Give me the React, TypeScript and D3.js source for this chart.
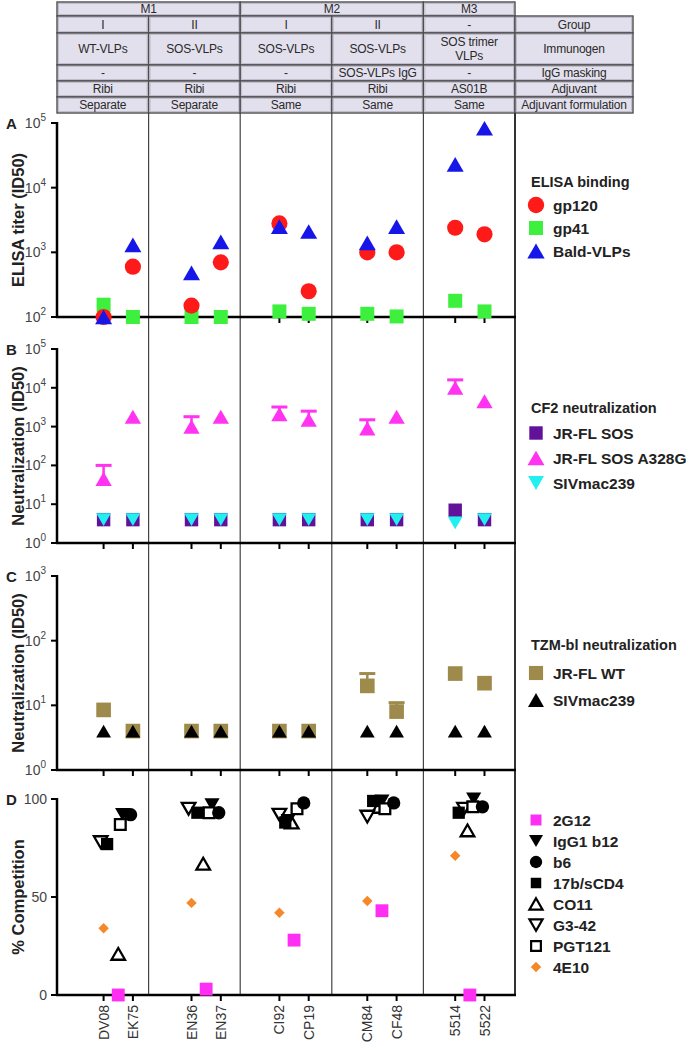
import React from "react";
import * as d3 from "d3";

// ---------------- data ----------------
const subjects = ["DV08", "EK75", "EN36", "EN37", "CI92", "CP19", "CM84", "CF48", "5514", "5522"];
const subjectSlots = [1, 2, 4, 5, 7, 8, 10, 11, 13, 14];
const groupKeys = ["M1-I", "M1-II", "M2-I", "M2-II", "M3"];
const groupCenterSlots = [1.5, 4.5, 7.5, 10.5, 13.5];

// table
const topHeaderLabels = ["M1", "M2", "M3"];
const topHeaderSpans = [2, 2, 1];
const rowTitles = ["Group", "Immunogen", "IgG masking", "Adjuvant", "Adjuvant formulation"];
const groupRow = ["I", "II", "I", "II", "-"];
const immunogenRow = ["WT-VLPs", "SOS-VLPs", "SOS-VLPs", "SOS-VLPs", "SOS trimer|VLPs"];
const maskingRow = ["-", "-", "-", "SOS-VLPs IgG", "-"];
const adjuvantRow = ["Ribi", "Ribi", "Ribi", "Ribi", "AS01B"];
const formulationRow = ["Separate", "Separate", "Same", "Same", "Same"];

// Panel A: ELISA binding (ID50)
const elisaGp120 = [100, 600, 150, 700, 2800, 250, 1000, 1000, 2400, 1900];
const elisaGp41 = [155, 100, 100, 100, 122, 112, 112, 102, 178, 122];
const elisaBald = [100, 1300, 480, 1450, 2500, 2100, 1400, 2500, 23000, 83000];

// Panel B: CF2 neutralization (ID50)
const cf2JrflSos = [4, 4, 4, 4, 4, 4, 4, 4, 7, 4];
const cf2A328G = [45, 1800, 1000, 1800, 2100, 1500, 900, 1800, 10000, 4500];
const cf2A328GUpper = [100, null, 1800, null, 3200, 2500, 1500, null, 16000, null];
const cf2Siv = [4, 4, 4, 4, 4, 4, 4, 4, 3.3, 4];

// Panel C: TZM-bl neutralization (ID50)
const tzmJrflWT = [8.5, 4, 4, 4, 4, 4, 20, 8, 31, 22];
const tzmJrflWTUpper = [null, null, null, null, null, null, 31, 11, null, null];
const tzmSiv = [4, 4, 4, 4, 4, 4, 4, 4, 4, 4];

// Panel D: % competition per group (5 groups)
const compNames = ["2G12", "IgG1 b12", "b6", "17b/sCD4", "CO11", "G3-42", "PGT121", "4E10"];
const comp2G12 = [0, 3, 28, 43, 0];
const compB12 = [92, 97, 89, 99, 100];
const compB6 = [92, 93, 98, 98, 96];
const comp17b = [77, 93, 88, 99, 93];
const compCO11 = [21, 67, 88, 96, 84];
const compG342 = [78, 95, 92, 91, 95];
const compPGT121 = [87, 93, 95, 95, 96];
const comp4E10 = [34, 47, 42, 48, 71];
// horizontal scatter offsets (in subject-slot units) as plotted
const jit2G12 = [0, 0, 0, 0, 0];
const jitB12 = [0.15, 0.2, -0.2, 0, 0.13];
const jitB6 = [0.42, 0.43, 0.33, 0.4, 0.43];
const jit17b = [-0.38, -0.3, -0.3, -0.3, -0.38];
const jitCO11 = [0, -0.1, -0.08, -0.1, -0.08];
const jitG342 = [-0.6, -0.6, -0.5, -0.5, -0.2];
const jitPGT121 = [0.07, 0.1, 0.1, 0.1, 0.1];
const jit4E10 = [-0.5, -0.5, -0.5, -0.5, -0.5];

// ---------------- layout ----------------
const W = 699;
const H = 1050;
const FONT = "'Liberation Sans', Arial, Helvetica, sans-serif";
const axisLeft = 57;
const plotRight = 515;
const tableRight = 633;
const tableRowsY = [2, 16, 33, 65, 81, 97, 113];
const plotBottom = 995;

const xSlot = d3.scaleLinear().domain([1, 14]).range([103.6, 484.5]);
const xGroup = d3.scaleBand<string>().domain(groupKeys).range([axisLeft, plotRight]);

const yA = d3.scaleLog().domain([1e2, 1e5]).range([317, 123]);
const yB = d3.scaleLog().domain([1, 1e5]).range([543, 349]);
const yC = d3.scaleLog().domain([1, 1e3]).range([770, 576]);
const yD = d3.scaleLinear().domain([0, 100]).range([995, 799]);

const C = {
  red: "#ff1a1a",
  green: "#3ef03e",
  blue: "#1616e8",
  purple: "#62119a",
  pink: "#ff33f0",
  cyan: "#22f0f0",
  olive: "#9e8b4c",
  black: "#000",
  magenta: "#ff2ef5",
  orange: "#f5892a",
};

type Shape = "circle" | "square" | "triangle" | "triangleDown" | "diamond";

function Marker(props: {
  shape: Shape;
  x: number;
  y: number;
  size: number;
  fill: string;
  stroke?: string;
  sw?: number;
}) {
  const { shape, x, y, size, fill, stroke, sw } = props;
  let type: any = d3.symbolCircle;
  let rot = 0;
  let dy = 0;
  if (shape === "square") type = d3.symbolSquare;
  if (shape === "triangle") {
    type = d3.symbolTriangle;
    dy = Math.sqrt(size / (Math.sqrt(3) * 3)) * 0.5;
  }
  if (shape === "triangleDown") {
    type = d3.symbolTriangle;
    rot = 180;
    dy = -Math.sqrt(size / (Math.sqrt(3) * 3)) * 0.5;
  }
  if (shape === "diamond") {
    type = d3.symbolSquare;
    rot = 45;
  }
  const d = d3.symbol().type(type).size(size)() as string;
  return (
    <path
      d={d}
      transform={`translate(${x},${y + dy}) rotate(${rot})`}
      fill={fill}
      stroke={stroke || "none"}
      strokeWidth={sw || 0}
      strokeLinejoin="miter"
    />
  );
}

function LogTicks(props: { scale: any; exps: number[] }) {
  const { scale, exps } = props;
  return (
    <g>
      {exps.map((e) => {
        const y = scale(Math.pow(10, e));
        return (
          <g key={e}>
            <line x1={axisLeft - 6} x2={axisLeft} y1={y} y2={y} stroke="#000" strokeWidth={2} />
            <text x={axisLeft - 11} y={y + 5} textAnchor="end" fontFamily={FONT} fontSize={14} fill="#444">
              10
              <tspan dy={-7} fontSize={10}>
                {e}
              </tspan>
            </text>
          </g>
        );
      })}
    </g>
  );
}

function PanelFrame(props: { top: number; bottom: number; letter: string; title: string }) {
  const { top, bottom, letter, title } = props;
  const mid = (top + bottom) / 2;
  return (
    <g>
      <line x1={axisLeft} x2={axisLeft} y1={top - 1} y2={bottom} stroke="#000" strokeWidth={2.5} />
      <line x1={axisLeft - 1} x2={plotRight + 1} y1={bottom} y2={bottom} stroke="#000" strokeWidth={2.5} />
      {subjectSlots.map((s, i) => (
        <line key={i} x1={xSlot(s)} x2={xSlot(s)} y1={bottom} y2={bottom + 6} stroke="#000" strokeWidth={2} />
      ))}
      <text x={6} y={top + 6} fontFamily={FONT} fontSize={15} fontWeight="bold" fill="#222">
        {letter}
      </text>
      <text
        transform={`translate(${24},${mid}) rotate(-90)`}
        textAnchor="middle"
        fontFamily={FONT}
        fontSize={16.5}
        fontWeight="bold"
        fill="#222"
      >
        {title}
      </text>
    </g>
  );
}

function Legend(props: {
  x: number;
  y: number;
  title?: string;
  items: { label: string; shape: Shape; size: number; fill: string; stroke?: string; sw?: number }[];
  step: number;
  titleGap: number;
}) {
  const { x, y, title, items, step, titleGap } = props;
  return (
    <g>
      {title && (
        <text x={x - 2} y={y + 5} fontFamily={FONT} fontSize={14.5} fontWeight="bold" fill="#222">
          {title}
        </text>
      )}
      {items.map((it, i) => {
        const yy = y + (title ? titleGap : 0) + i * step;
        return (
          <g key={it.label}>
            <Marker shape={it.shape} x={x + 3} y={yy} size={it.size} fill={it.fill} stroke={it.stroke} sw={it.sw} />
            <text x={x + 20} y={yy + 5.5} fontFamily={FONT} fontSize={15.5} fontWeight="bold" fill="#222">
              {it.label}
            </text>
          </g>
        );
      })}
    </g>
  );
}

function Table() {
  const cols = groupKeys.map((g) => [xGroup(g) as number, (xGroup(g) as number) + xGroup.bandwidth()]);
  const cellFill = "#e3e0ed";
  const cellStroke = "#4d4d4d";
  const rows = [groupRow, immunogenRow, maskingRow, adjuvantRow, formulationRow];
  const cells: any[] = [];
  let c0 = 0;
  topHeaderLabels.forEach((lab, i) => {
    const span = topHeaderSpans[i];
    const x1 = cols[c0][0];
    const x2 = cols[c0 + span - 1][1];
    cells.push({ x1, x2, y1: tableRowsY[0], y2: tableRowsY[1], text: lab });
    c0 += span;
  });
  rows.forEach((row, r) => {
    row.forEach((t, c) => {
      cells.push({ x1: cols[c][0], x2: cols[c][1], y1: tableRowsY[r + 1], y2: tableRowsY[r + 2], text: t });
    });
    cells.push({
      x1: plotRight,
      x2: tableRight,
      y1: tableRowsY[r + 1],
      y2: tableRowsY[r + 2],
      text: rowTitles[r],
    });
  });
  return (
    <g>
      {cells.map((c, i) => {
        const lines = String(c.text).split("|");
        const cy = (c.y1 + c.y2) / 2;
        const lh = 14;
        return (
          <g key={i}>
            <rect
              x={c.x1}
              y={c.y1}
              width={c.x2 - c.x1}
              height={c.y2 - c.y1}
              fill={cellFill}
              stroke={cellStroke}
              strokeWidth={1.4}
            />
            <rect
              x={c.x1 + 1.5}
              y={c.y1 + 1.5}
              width={c.x2 - c.x1 - 3}
              height={c.y2 - c.y1 - 3}
              fill="none"
              stroke="#b9b5c6"
              strokeWidth={0.8}
            />
            {lines.map((ln, j) => (
              <text
                key={j}
                x={(c.x1 + c.x2) / 2}
                y={cy + 4.3 + (j - (lines.length - 1) / 2) * lh}
                textAnchor="middle"
                fontFamily={FONT}
                fontSize={12}
                fill="#2a2a2a"
                letterSpacing={-0.2}
              >
                {ln}
              </text>
            ))}
          </g>
        );
      })}
    </g>
  );
}

function ErrorCap(props: { x: number; y1: number; y2: number; color: string }) {
  const { x, y1, y2, color } = props;
  return (
    <g>
      <line x1={x} x2={x} y1={y1} y2={y2} stroke={color} strokeWidth={2.5} />
      <line x1={x - 8} x2={x + 8} y1={y2} y2={y2} stroke={color} strokeWidth={3} />
    </g>
  );
}

export default function App() {
  const separators = groupKeys.slice(1).map((g) => xGroup(g) as number);

  const compSeries = [
    { name: compNames[4], vals: compCO11, jit: jitCO11, shape: "triangle" as Shape, size: 80, fill: "#fff", stroke: "#000", sw: 2.3 },
    { name: compNames[7], vals: comp4E10, jit: jit4E10, shape: "diamond" as Shape, size: 55, fill: C.orange },
    { name: compNames[0], vals: comp2G12, jit: jit2G12, shape: "square" as Shape, size: 165, fill: C.magenta },
    { name: compNames[5], vals: compG342, jit: jitG342, shape: "triangleDown" as Shape, size: 80, fill: "#fff", stroke: "#000", sw: 2.3 },
    { name: compNames[3], vals: comp17b, jit: jit17b, shape: "square" as Shape, size: 150, fill: "#000" },
    { name: compNames[1], vals: compB12, jit: jitB12, shape: "triangleDown" as Shape, size: 100, fill: "#000" },
    { name: compNames[6], vals: compPGT121, jit: jitPGT121, shape: "square" as Shape, size: 115, fill: "#fff", stroke: "#000", sw: 2.3 },
    { name: compNames[2], vals: compB6, jit: jitB6, shape: "circle" as Shape, size: 140, fill: "#000" },
  ];

  return (
    <div style={{ position: "absolute", left: 0, top: 0, width: W, height: H, background: "#fff" }}>
      <svg width={W} height={H} viewBox={`0 0 ${W} ${H}`} style={{ display: "block" }}>
        <rect x={0} y={0} width={W} height={H} fill="#fff" />
        <Table />

        {/* group separators and right frame */}
        {separators.map((x, i) => (
          <line key={i} x1={x} x2={x} y1={tableRowsY[6]} y2={plotBottom} stroke="#444" strokeWidth={1.2} />
        ))}
        <line x1={plotRight} x2={plotRight} y1={tableRowsY[6]} y2={plotBottom} stroke="#333" strokeWidth={2} />

        {/* Panel A */}
        <PanelFrame top={yA.range()[1]} bottom={yA.range()[0]} letter="A" title="ELISA titer (ID50)" />
        <LogTicks scale={yA} exps={[2, 3, 4, 5]} />
        {elisaGp41.map((v, i) => (
          <Marker key={"g41" + i} shape="square" x={xSlot(subjectSlots[i])} y={yA(v)} size={196} fill={C.green} />
        ))}
        {elisaGp120.map((v, i) => (
          <Marker key={"g120" + i} shape="circle" x={xSlot(subjectSlots[i])} y={yA(v)} size={205} fill={C.red} />
        ))}
        {elisaBald.map((v, i) => (
          <Marker key={"bald" + i} shape="triangle" x={xSlot(subjectSlots[i])} y={yA(v)} size={125} fill={C.blue} />
        ))}

        {/* Panel B */}
        <PanelFrame top={yB.range()[1]} bottom={yB.range()[0]} letter="B" title="Neutralization (ID50)" />
        <LogTicks scale={yB} exps={[0, 1, 2, 3, 4, 5]} />
        {cf2JrflSos.map((v, i) => (
          <Marker key={"sos" + i} shape="square" x={xSlot(subjectSlots[i])} y={yB(v)} size={180} fill={C.purple} />
        ))}
        {cf2Siv.map((v, i) => (
          <Marker key={"sivb" + i} shape="triangleDown" x={xSlot(subjectSlots[i])} y={yB(v)} size={95} fill={C.cyan} />
        ))}
        {cf2A328G.map((v, i) =>
          cf2A328GUpper[i] != null ? (
            <ErrorCap key={"eb" + i} x={xSlot(subjectSlots[i])} y1={yB(v)} y2={yB(cf2A328GUpper[i] as number)} color={C.pink} />
          ) : null
        )}
        {cf2A328G.map((v, i) => (
          <Marker key={"a328" + i} shape="triangle" x={xSlot(subjectSlots[i])} y={yB(v)} size={115} fill={C.pink} />
        ))}

        {/* Panel C */}
        <PanelFrame top={yC.range()[1]} bottom={yC.range()[0]} letter="C" title="Neutralization (ID50)" />
        <LogTicks scale={yC} exps={[0, 1, 2, 3]} />
        {tzmJrflWT.map((v, i) =>
          tzmJrflWTUpper[i] != null ? (
            <ErrorCap key={"ec" + i} x={xSlot(subjectSlots[i])} y1={yC(v)} y2={yC(tzmJrflWTUpper[i] as number)} color={C.olive} />
          ) : null
        )}
        {tzmJrflWT.map((v, i) => (
          <Marker key={"wt" + i} shape="square" x={xSlot(subjectSlots[i])} y={yC(v)} size={215} fill={C.olive} />
        ))}
        {tzmSiv.map((v, i) => (
          <Marker key={"sivc" + i} shape="triangle" x={xSlot(subjectSlots[i])} y={yC(v)} size={95} fill={C.black} />
        ))}

        {/* Panel D */}
        <PanelFrame top={yD.range()[1]} bottom={yD.range()[0]} letter="D" title="% Competition" />
        {[0, 50, 100].map((t) => (
          <g key={t}>
            <line x1={axisLeft - 6} x2={axisLeft} y1={yD(t)} y2={yD(t)} stroke="#000" strokeWidth={2} />
            <text x={axisLeft - 10} y={yD(t) + 5} textAnchor="end" fontFamily={FONT} fontSize={14} fill="#444">
              {t}
            </text>
          </g>
        ))}
        {compSeries.map((s) =>
          s.vals.map((v, g) => (
            <Marker
              key={s.name + g}
              shape={s.shape}
              x={xSlot(groupCenterSlots[g] + s.jit[g])}
              y={yD(v)}
              size={s.size}
              fill={s.fill}
              stroke={(s as any).stroke}
              sw={(s as any).sw}
            />
          ))
        )}

        {/* x tick labels */}
        {subjects.map((s, i) => (
          <text
            key={s}
            transform={`translate(${xSlot(subjectSlots[i]) + 5},${plotBottom + 10}) rotate(-90)`}
            textAnchor="end"
            fontFamily={FONT}
            fontSize={14}
            fill="#333"
          >
            {s}
          </text>
        ))}

        {/* legends */}
        <Legend
          x={533}
          y={182}
          title="ELISA binding"
          titleGap={23}
          step={23}
          items={[
            { label: "gp120", shape: "circle", size: 210, fill: C.red },
            { label: "gp41", shape: "square", size: 196, fill: C.green },
            { label: "Bald-VLPs", shape: "triangle", size: 130, fill: C.blue },
          ]}
        />
        <Legend
          x={533}
          y={408}
          title="CF2 neutralization"
          titleGap={25}
          step={25}
          items={[
            { label: "JR-FL SOS", shape: "square", size: 180, fill: C.purple },
            { label: "JR-FL SOS A328G", shape: "triangle", size: 125, fill: C.pink },
            { label: "SIVmac239", shape: "triangleDown", size: 110, fill: C.cyan },
          ]}
        />
        <Legend
          x={533}
          y={645}
          title="TZM-bl neutralization"
          titleGap={28}
          step={27}
          items={[
            { label: "JR-FL WT", shape: "square", size: 200, fill: C.olive },
            { label: "SIVmac239", shape: "triangle", size: 110, fill: C.black },
          ]}
        />
        <Legend
          x={533}
          y={820}
          titleGap={0}
          step={21}
          items={[
            { label: "2G12", shape: "square", size: 120, fill: C.magenta },
            { label: "IgG1 b12", shape: "triangleDown", size: 85, fill: "#000" },
            { label: "b6", shape: "circle", size: 120, fill: "#000" },
            { label: "17b/sCD4", shape: "square", size: 110, fill: "#000" },
            { label: "CO11", shape: "triangle", size: 75, fill: "#fff", stroke: "#000", sw: 2.2 },
            { label: "G3-42", shape: "triangleDown", size: 75, fill: "#fff", stroke: "#000", sw: 2.2 },
            { label: "PGT121", shape: "square", size: 95, fill: "#fff", stroke: "#000", sw: 2.2 },
            { label: "4E10", shape: "diamond", size: 55, fill: C.orange },
          ]}
        />
      </svg>
    </div>
  );
}
